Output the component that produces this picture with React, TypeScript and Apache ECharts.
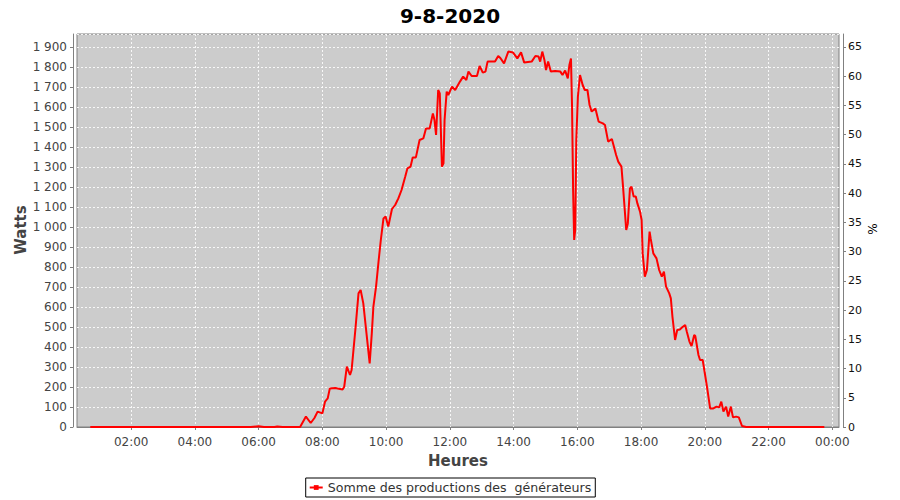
import React, { useEffect, useRef } from "react";
import * as echarts from "echarts";

const chartTitle = "9-8-2020";
const seriesName = "Somme des productions des  générateurs";
const leftAxisName = "Watts";
const rightAxisName = "%";

const times = [
  "00:43", "01:15", "01:45", "02:15", "02:45", "03:15", "03:45", "04:15", "04:45", "05:15",
  "05:45", "06:00", "06:10", "06:30", "06:35", "06:45", "07:00", "07:15", "07:18", "07:29",
  "07:38", "07:45", "07:51", "08:00", "08:05", "08:10", "08:14", "08:24", "08:38", "08:41",
  "08:46", "08:52", "08:55", "09:02", "09:08", "09:12", "09:17", "09:23", "09:29", "09:33",
  "09:36", "09:41", "09:46", "09:50", "09:55", "09:59", "10:04", "10:11", "10:17", "10:23",
  "10:29", "10:36", "10:40", "10:46", "10:50", "10:56", "11:03", "11:10", "11:15", "11:22",
  "11:28", "11:31", "11:34", "11:38", "11:41", "11:45", "11:48", "11:50", "11:54", "11:57",
  "12:04", "12:10", "12:19", "12:25", "12:31", "12:35", "12:41", "12:51", "12:56", "13:02",
  "13:07", "13:11", "13:25", "13:31", "13:35", "13:42", "13:50", "13:59", "14:07", "14:14",
  "14:20", "14:34", "14:41", "14:47", "14:50", "14:54", "14:58", "15:01", "15:05", "15:10",
  "15:18", "15:28", "15:32", "15:37", "15:42", "15:45", "15:48", "15:50", "15:52", "15:54",
  "15:56", "15:58", "16:01", "16:05", "16:10", "16:14", "16:19", "16:23", "16:27", "16:34",
  "16:40", "16:48", "16:52", "16:58", "17:05", "17:13", "17:17", "17:23", "17:26", "17:32",
  "17:35", "17:39", "17:42", "17:46", "17:50", "17:53", "17:58", "18:01", "18:03", "18:07",
  "18:11", "18:16", "18:18", "18:23", "18:29", "18:34", "18:39", "18:43", "18:47", "18:53",
  "18:56", "18:59", "19:04", "19:08", "19:13", "19:18", "19:23", "19:26", "19:31", "19:35",
  "19:40", "19:42", "19:48", "19:51", "19:56", "19:59", "20:04", "20:10", "20:16", "20:22",
  "20:27", "20:31", "20:35", "20:40", "20:44", "20:49", "20:53", "20:59", "21:04", "21:10",
  "21:18", "21:45", "22:15", "22:45", "23:15", "23:45"
];

const watts = [
  0, 0, 0, 0, 0, 0, 0, 0, 0, 0,
  0, 4, 0, 0, 3, 0, 0, 0, 0, 52,
  20, 45, 77, 68, 127, 143, 193, 195, 188, 200,
  302, 260, 285, 485, 668, 685, 618, 468, 318, 468,
  602, 702, 835, 935, 1043, 1052, 1002, 1090, 1110, 1143,
  1185, 1252, 1293, 1302, 1348, 1348, 1435, 1443, 1493, 1493,
  1568, 1535, 1460, 1685, 1668, 1302, 1318, 1535, 1677, 1660,
  1702, 1685, 1727, 1752, 1735, 1777, 1755, 1755, 1805, 1772,
  1777, 1827, 1827, 1855, 1845, 1818, 1877, 1872, 1843, 1873,
  1822, 1827, 1855, 1852, 1827, 1877, 1835, 1785, 1827, 1777,
  1780, 1777, 1760, 1782, 1743, 1810, 1843, 1602, 1185, 935,
  985, 1435, 1652, 1760, 1710, 1685, 1685, 1610, 1577, 1593,
  1527, 1518, 1510, 1427, 1440, 1360, 1327, 1302, 1202, 985,
  1018, 1193, 1202, 1152, 1152, 1118, 1077, 1035, 868, 752,
  785, 977, 943, 868, 843, 785, 752, 777, 702, 668,
  643, 552, 435, 485, 488, 500, 510, 477, 427, 405,
  460, 455, 360, 335, 335, 285, 202, 93, 93, 102,
  98, 127, 77, 102, 52, 102, 48, 52, 48, 5,
  0, 0, 0, 0, 0, 0
];

const hourTicks = [2, 4, 6, 8, 10, 12, 14, 16, 18, 20, 22, 24];

const FONT = "DejaVu Sans";

function toHours(s: string): number {
  const [h, m] = s.split(":").map(Number);
  return h + m / 60;
}

function fmtWatts(v: number): string {
  if (v % 100 !== 0) return "";
  if (v >= 1000) {
    return `${Math.floor(v / 1000)} ${String(v % 1000).padStart(3, "0")}`;
  }
  return String(v);
}

export default function App() {
  const ref = useRef<HTMLDivElement>(null);

  useEffect(() => {
    if (!ref.current) return;
    const chart = echarts.init(ref.current, undefined, { renderer: "svg" });
    const data = times.map((t, i) => [toHours(t), watts[i]]);

    chart.setOption({
      animation: false,
      backgroundColor: "#ffffff",
      title: {
        text: chartTitle,
        left: "center",
        top: 1,
        textStyle: { fontFamily: FONT, fontSize: 20, fontWeight: "bold", color: "#000" },
      },
      legend: {
        bottom: 3,
        left: "center",
        borderColor: "#000",
        borderWidth: 1,
        borderRadius: 0,
        padding: [3, 4, 3, 3],
        itemWidth: 13,
        itemHeight: 6,
        itemGap: 5,
        textStyle: { fontFamily: FONT, fontSize: 12.6, color: "#333" },
        data: [seriesName],
      },
      graphic: [
        {
          type: "text",
          x: 21,
          y: 230,
          rotation: Math.PI / 2,
          style: {
            text: leftAxisName,
            fill: "#444",
            font: `bold 15px "${FONT}"`,
            align: "center",
            verticalAlign: "middle",
          },
        },
        {
          type: "text",
          x: 873,
          y: 229,
          rotation: Math.PI / 2,
          style: {
            text: rightAxisName,
            fill: "#000",
            font: `12px "${FONT}"`,
            align: "center",
            verticalAlign: "middle",
          },
        },
      ],
      grid: {
        left: 77,
        right: 61,
        top: 34,
        bottom: 73,
        show: true,
        backgroundColor: "#cccccc",
        borderColor: "#808080",
        borderWidth: 1,
      },
      xAxis: {
        type: "value",
        min: 0.3,
        max: 24.21,
        name: "Heures",
        nameLocation: "middle",
        nameGap: 22,
        nameTextStyle: { fontFamily: FONT, fontSize: 15, fontWeight: "bold", color: "#444" },
        offset: 4,
        axisLine: { show: true, lineStyle: { color: "#808080", width: 1 } },
        axisTick: { show: true, length: 3, customValues: hourTicks, lineStyle: { color: "#808080" } },
        axisLabel: {
          customValues: hourTicks,
          fontFamily: FONT,
          fontSize: 12,
          color: "#444",
          margin: 5,
          formatter: (v: number) => `${String(Math.round(v) % 24).padStart(2, "0")}:00`,
        },
        splitLine: { show: true, lineStyle: { color: "#ffffff", type: [2, 2], width: 1, opacity: 0.85 } },
      },
      yAxis: [
        {
          type: "value",
          min: 0,
          max: 1965,
          interval: 100,
          offset: 4,
          axisLine: { show: true, lineStyle: { color: "#808080", width: 1 } },
          axisTick: { show: true, length: 3, lineStyle: { color: "#808080" } },
          axisLabel: {
            fontFamily: FONT,
            fontSize: 12,
            color: "#444",
            margin: 6,
            showMaxLabel: false,
            formatter: fmtWatts,
          },
          splitLine: { show: true, lineStyle: { color: "#ffffff", type: [2, 2], width: 1, opacity: 0.85 } },
        },
        {
          type: "value",
          position: "right",
          min: 0,
          max: 67.22,
          interval: 5,
          offset: 4,
          axisLine: { show: true, lineStyle: { color: "#808080", width: 1 } },
          axisTick: { show: true, length: 3, lineStyle: { color: "#808080" } },
          axisLabel: {
            fontFamily: FONT,
            fontSize: 11,
            color: "#111",
            margin: 5,
            showMaxLabel: false,
            formatter: (v: number) => (v % 5 === 0 ? String(v) : ""),
          },
          splitLine: { show: false },
        },
      ],
      series: [
        {
          name: seriesName,
          type: "line",
          yAxisIndex: 0,
          data,
          symbol: "rect",
          symbolSize: 2,
          showSymbol: false,
          lineStyle: { color: "#ff0000", width: 2 },
          itemStyle: { color: "#ff0000" },
          clip: true,
        },
      ],
    });

    return () => chart.dispose();
  }, []);

  return (
    <div
      ref={ref}
      style={{ position: "fixed", left: 0, top: 0, width: 900, height: 500 }}
    />
  );
}
